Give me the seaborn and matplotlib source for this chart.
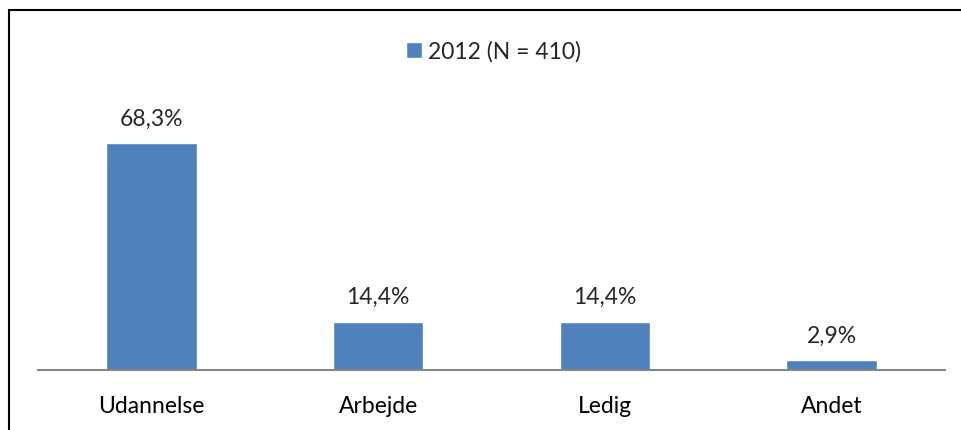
import matplotlib
matplotlib.use("Agg")
import matplotlib.pyplot as plt
import seaborn as sns

categories = ["Udannelse", "Arbejde", "Ledig", "Andet"]
values = [68.3, 14.4, 14.4, 2.9]
series_label = "2012 (N = 410)"

sns.set_theme(style="white")
plt.rcParams['font.family'] = ['Lato', 'DejaVu Sans']

fig = plt.figure(figsize=(9.62, 4.30), dpi=100)
ax = fig.add_axes([38 / 962, 60 / 430, 907 / 962, 265.6 / 430])

sns.barplot(x=categories, y=values, color="#4F81BD", width=0.4, saturation=1,
            label=series_label, ax=ax)

ax.set_xlim(-0.5, 3.5)
ax.set_ylim(0, 80)
ax.set_yticks([])
ax.set_xlabel("")
ax.set_ylabel("")
for s in ["top", "right", "left"]:
    ax.spines[s].set_visible(False)
ax.spines["bottom"].set_color("#868686")
ax.spines["bottom"].set_linewidth(1.5)
ax.tick_params(axis="x", length=0, pad=18.5, labelsize=16.5, labelcolor="black")

labels = [f"{v:.1f}%".replace(".", ",") for v in values]
ax.bar_label(ax.containers[0], labels=labels, padding=10, fontsize=16.5)

leg = ax.legend(loc="center", bbox_to_anchor=(0.513, 0.88), bbox_transform=fig.transFigure,
                frameon=False, fontsize=16.5, handlelength=0.7, handleheight=0.7,
                handletextpad=0.3)

# chart border (cut off at right/bottom in the reference)
fig.add_artist(plt.Rectangle((9 / 962, -0.1), 1.1, (420 / 430) + 0.1,
                             transform=fig.transFigure, fill=False,
                             edgecolor="black", linewidth=1.5))

fig.savefig("out.png", dpi=100)
